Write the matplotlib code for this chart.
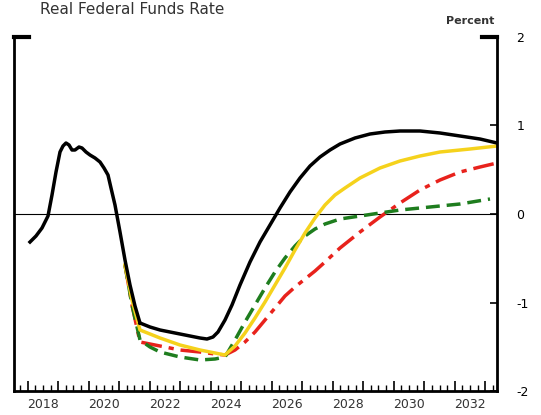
import matplotlib
matplotlib.use('Agg')
import matplotlib.pyplot as plt
import numpy as np

def yr(px):
    return 2018.5 + (np.array(px) - 43) / 30.5

def val(py):
    return (214 - np.array(py)) / 88.5

# values (pixel positions in the reference converted by yr/val)
hist_x = [30, 36, 42, 48, 52, 56, 60, 63, 66, 69, 72, 75, 79, 82, 86, 90, 95, 100, 104, 108, 111, 115, 120, 125, 130, 135, 140]
hist_y = [242, 236, 228, 216, 195, 172, 152, 146, 143, 145, 150, 150, 147, 148, 152, 155, 158, 162, 168, 175, 188, 205, 232, 260, 285, 306, 323]

black_x = [140, 150, 160, 170, 180, 190, 200, 207, 213, 218, 225, 232, 240, 250, 260, 270, 280, 290, 300, 310, 320, 330, 340, 355, 370, 385, 400, 420, 440, 460, 480, 497]
black_y = [323, 327, 330, 332, 334, 336, 338, 339, 337, 332, 320, 305, 285, 262, 242, 225, 208, 192, 178, 166, 157, 150, 144, 138, 134, 132, 131, 131, 133, 136, 139, 143]

yellow_x = [125, 132, 140, 160, 180, 200, 215, 225, 235, 245, 255, 265, 275, 285, 295, 305, 315, 325, 335, 345, 360, 380, 400, 420, 440, 470, 497]
yellow_y = [265, 300, 330, 338, 345, 350, 353, 355, 346, 333, 318, 302, 285, 268, 250, 233, 218, 205, 195, 188, 178, 168, 161, 156, 152, 149, 146]

green_x = [125, 132, 140, 150, 160, 180, 200, 215, 225, 235, 245, 255, 265, 275, 285, 295, 305, 315, 325, 340, 360, 380, 400, 430, 460, 490]
green_y = [265, 305, 340, 347, 352, 357, 360, 359, 357, 340, 322, 305, 288, 272, 258, 246, 236, 229, 224, 219, 216, 213, 210, 207, 204, 199]

red_x = [125, 132, 140, 160, 180, 200, 215, 225, 235, 245, 255, 265, 275, 285, 295, 305, 315, 325, 340, 360, 380, 400, 420, 440, 460, 480, 497]
red_y = [265, 305, 342, 346, 350, 352, 354, 355, 350, 342, 332, 320, 308, 296, 287, 279, 271, 262, 248, 232, 217, 203, 190, 180, 172, 167, 163]

years = list(range(2018, 2033, 2))

fig = plt.figure(figsize=(5.41, 4.15), dpi=100)
ax = fig.add_axes([14/541, 1 - 391/415, 483/541, 354/415])
ax.set_xlim(yr(14), yr(497))
ax.set_ylim(-2, 2)

ax.axhline(0, color='black', lw=0.8)
ax.plot(yr(red_x), val(red_y), color='#e8221c', lw=2.5, ls=(0, (6, 2, 1.5, 2)))
ax.plot(yr(green_x), val(green_y), color='#1e7d1e', lw=2.5, ls=(0, (4, 2)))
ax.plot(yr(yellow_x), val(yellow_y), color='#f5d21c', lw=2.5)
ax.plot(yr(hist_x), val(hist_y), color='black', lw=2.5)
ax.plot(yr(black_x), val(black_y), color='black', lw=2.5)

for s in ['left', 'right', 'bottom']:
    ax.spines[s].set_linewidth(2)
ax.spines['top'].set_visible(False)
x0, x1 = ax.get_xlim()
ax.plot([x0, x0 + 0.5], [2, 2], color='black', lw=3, clip_on=False)
ax.plot([x1 - 0.5, x1], [2, 2], color='black', lw=3, clip_on=False)

ax.set_xticks(np.arange(2018, 2034, 1), minor=False)
ax.set_xticklabels([])
ax.set_xticks(np.arange(2017.75, 2033.4, 0.25), minor=True)
ax.tick_params(axis='x', which='major', direction='in', length=7, width=1.2)
ax.tick_params(axis='x', which='minor', direction='in', length=4, width=1)
for y in years:
    ax.text(y + 0.5, -2.08, str(y), ha='center', va='top', fontsize=9, color='#333333')

ax.set_yticks([-2, -1, 0, 1, 2])
ax.set_yticklabels(['-2', '-1', '0', '1', '2'])
ax.yaxis.tick_right()
ax.tick_params(axis='y', which='both', direction='in', length=5, width=1.2,
               left=False, right=True, labelsize=9, pad=14)
ax.text(x1 - 0.1, 2.12, 'Percent', ha='right', va='bottom', fontsize=8, fontweight='bold', color='#333333')
fig.text(40/541, 1 - 2/415, 'Real Federal Funds Rate', ha='left', va='top', fontsize=11, color='#333333')

fig.savefig('out.png', dpi=100)
